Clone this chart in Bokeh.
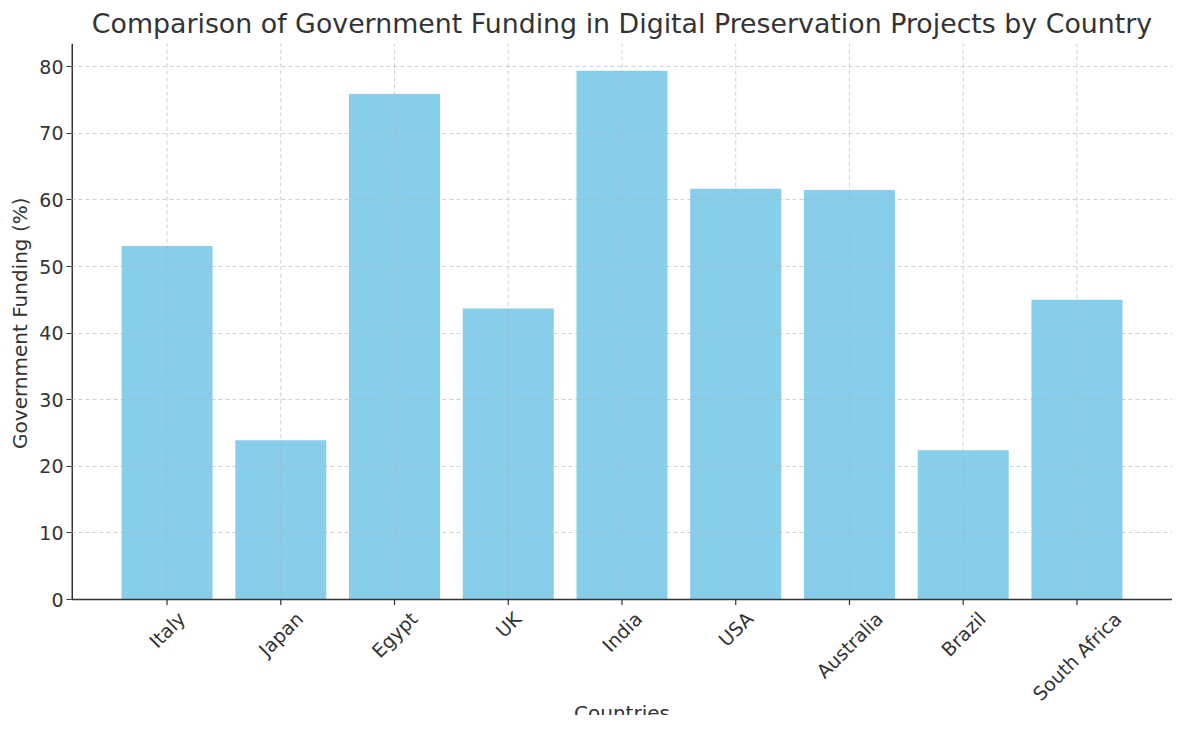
import math
from bokeh.plotting import figure
from bokeh.models import ColumnDataSource, Range1d, FixedTicker, Title
from bokeh.core.properties import value
from bokeh.embed import file_html
from bokeh.resources import INLINE

countries = ["Italy", "Japan", "Egypt", "UK", "India", "USA", "Australia", "Brazil", "South Africa"]
funding = [53.1, 23.9, 75.9, 43.7, 79.4, 61.7, 61.5, 22.4, 45.0]
y_ticks = [0, 10, 20, 30, 40, 50, 60, 70, 80]

FONT = "DejaVu Sans"
TXT = "#333333"
TICK_FS = 19
W, H = 1172, 715
LEFT, TOP = 63, 36
HIDDEN_BOTTOM = 7      # extra bottom border bokeh keeps below the frame
Y_MAX = 83.5
PLOT_PX = 556          # pixels from value 0 up to the top of the frame
BELOW_PX = H - TOP - PLOT_PX - HIDDEN_BOTTOM   # pixels below value 0
PXU = PLOT_PX / Y_MAX  # pixels per data unit (vertical)

# approximate DejaVu Sans advance widths (units of 2048/em), used only to
# centre the rotated category labels below their ticks (matplotlib style)
_ADV = {" ": 651, "A": 1401, "B": 1405, "E": 1294, "I": 604, "J": 604, "K": 1343,
        "S": 1300, "U": 1499, "a": 1255, "c": 1126, "d": 1300, "f": 721, "g": 1300,
        "h": 1298, "i": 569, "l": 569, "n": 1298, "o": 1253, "p": 1300, "r": 842,
        "s": 1067, "t": 803, "u": 1298, "y": 1212, "z": 1075}


def text_w(s):
    return sum(_ADV.get(ch, 1250) for ch in s) * TICK_FS / 2048.0


xs = list(range(len(countries)))
x_lo, x_hi = -0.84, len(countries) - 1 + 0.84
c45 = math.cos(math.pi / 4)
GAP = 9
lab_y = [-(GAP + (text_w(c) + TICK_FS) * c45 / 2.0) / PXU for c in countries]
TICK_LEN = 5.5 / PXU

src = ColumnDataSource(dict(x=xs, top=funding, name=countries, ly=lab_y,
                            z=[0] * len(xs), ymax=[Y_MAX] * len(xs),
                            t1=[-TICK_LEN] * len(xs)))

p = figure(width=W, height=H, output_backend="svg", toolbar_location=None,
           x_range=Range1d(x_lo, x_hi), y_range=Range1d(-BELOW_PX / PXU, Y_MAX),
           x_axis_location=None,
           title="Comparison of Government Funding in Digital Preservation Projects by Country",
           min_border_left=LEFT, min_border_right=0, min_border_top=TOP, min_border_bottom=0)

p.title.text_font = FONT
p.title.text_font_size = "26.8px"
p.title.text_font_style = "normal"
p.title.text_color = TXT
p.title.align = "center"
p.outline_line_color = None

# bars
p.vbar(x="x", top="top", width=0.8, bottom=0, source=src, fill_color="#87CEEB", line_color=None)

# grid (dashed, above the bars)
GRID = dict(line_color="#b0b0b0", line_alpha=0.6, line_dash="4 3", line_width=1)
p.xgrid.visible = False
p.segment(x0="x", y0="z", x1="x", y1="ymax", source=src, **GRID)
p.ygrid.ticker = FixedTicker(ticks=[t for t in y_ticks if t > 0])
p.ygrid.grid_line_color = GRID["line_color"]
p.ygrid.grid_line_alpha = GRID["line_alpha"]
p.ygrid.grid_line_dash = GRID["line_dash"]
p.ygrid.level = "overlay"

# spines
p.segment(x0=[x_lo], y0=[0], x1=[x_hi], y1=[0], line_color=TXT, line_width=1.5)
p.segment(x0=[x_lo], y0=[0], x1=[x_lo], y1=[Y_MAX], line_color=TXT, line_width=3)
# x ticks
p.segment(x0="x", y0="z", x1="x", y1="t1", source=src, line_color=TXT, line_width=1.2)

# y axis (ticks + labels only; its line is drawn above so it stops at 0)
p.yaxis.ticker = FixedTicker(ticks=y_ticks)
p.yaxis.axis_line_color = None
p.yaxis.major_tick_line_color = TXT
p.yaxis.major_tick_line_width = 1.2
p.yaxis.major_tick_in = 0
p.yaxis.major_tick_out = 5
p.yaxis.minor_tick_line_color = None
p.yaxis.major_label_text_font = FONT
p.yaxis.major_label_text_font_size = f"{TICK_FS}px"
p.yaxis.major_label_text_color = TXT
p.yaxis.major_label_standoff = 3

ylab = Title(text="Government Funding (%)", align="right", offset=154,
             text_font=FONT, text_font_size="20px", text_font_style="normal",
             text_color=TXT)
p.add_layout(ylab, "left")

# category labels, rotated 45 degrees and centred under their ticks
p.text(x="x", y="ly", text="name", source=src, angle=math.pi / 4,
       text_align="center", text_baseline="middle",
       text_font=value(FONT), text_font_size=f"{TICK_FS}px", text_color=TXT)

xsrc = ColumnDataSource(dict(x=[(x_lo + x_hi) / 2.0],
                             y=[-(BELOW_PX - 3) / PXU], t=["Countries"]))
p.text(x="x", y="y", text="t", source=xsrc, text_align="center", text_baseline="alphabetic",
       text_font=value(FONT), text_font_size="20px", text_color=TXT)

open("out.html", "w").write(file_html(p, INLINE))
